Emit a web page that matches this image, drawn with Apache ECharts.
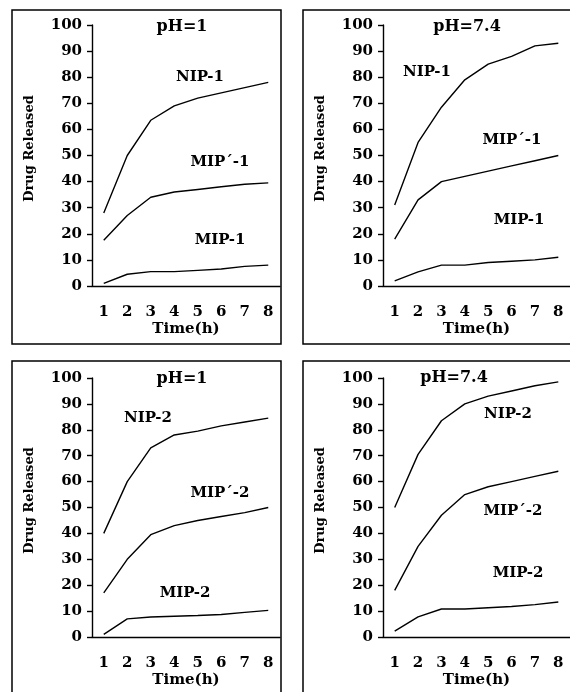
<!DOCTYPE html>
<html>
<head>
<meta charset="utf-8">
<script src="https://cdn.jsdelivr.net/npm/echarts@6/dist/echarts.min.js"></script>
<style>
  html, body { margin: 0; padding: 0; background: #fff; }
</style>
</head>
<body>
<div id="chart" style="width: 570px; height: 692px;"></div>
<script>
// time points (h)
const hours = ['1', '2', '3', '4', '5', '6', '7', '8'];
const yTicks = [0, 100, 10]; // min, max, step

// release data
const nip1Ph1 = [28, 50, 63.5, 69, 72, 74, 76, 78];
const mipp1Ph1 = [17.5, 27, 34, 36, 37, 38, 39, 39.5];
const mip1Ph1 = [1, 4.5, 5.5, 5.5, 6, 6.5, 7.5, 8];

const nip1Ph74 = [31, 55, 68.5, 79, 85, 88, 92, 93];
const mipp1Ph74 = [18, 33, 40, 42, 44, 46, 48, 50];
const mip1Ph74 = [2, 5.4, 8, 8, 9, 9.5, 10, 11];

const nip2Ph1 = [40, 60, 73, 78, 79.5, 81.5, 83, 84.5];
const mipp2Ph1 = [17, 30, 39.5, 43, 45, 46.5, 48, 50];
const mip2Ph1 = [1, 7, 7.7, 8, 8.3, 8.7, 9.5, 10.3];

const nip2Ph74 = [50, 70.5, 83.5, 90, 93, 95, 97, 98.5];
const mipp2Ph74 = [18, 35, 47, 55, 58, 60, 62, 64];
const mip2Ph74 = [2.3, 7.8, 10.8, 10.8, 11.3, 11.8, 12.5, 13.5];

const FONT = 'DejaVu Serif';

const panels = [
  { title: 'pH=1', grid: { left: 92, top: 25, width: 188, height: 261 },
    box: [12, 10, 269, 334], titlePos: [182, 27],
    series: [
      { name: 'NIP-1', data: nip1Ph1, pos: [200, 77] },
      { name: 'MIP\u00B4-1', data: mipp1Ph1, pos: [220, 162] },
      { name: 'MIP-1', data: mip1Ph1, pos: [220, 240] }
    ] },
  { title: 'pH=7.4', grid: { left: 383, top: 25, width: 187, height: 261 },
    box: [303, 10, 280, 334], titlePos: [467, 27],
    series: [
      { name: 'NIP-1', data: nip1Ph74, pos: [427, 72] },
      { name: 'MIP\u00B4-1', data: mipp1Ph74, pos: [512, 140] },
      { name: 'MIP-1', data: mip1Ph74, pos: [519, 220] }
    ] },
  { title: 'pH=1', grid: { left: 92, top: 378, width: 188, height: 259 },
    box: [12, 361, 269, 350], titlePos: [182, 379],
    series: [
      { name: 'NIP-2', data: nip2Ph1, pos: [148, 418] },
      { name: 'MIP\u00B4-2', data: mipp2Ph1, pos: [220, 493] },
      { name: 'MIP-2', data: mip2Ph1, pos: [185, 593] }
    ] },
  { title: 'pH=7.4', grid: { left: 383, top: 378, width: 187, height: 259 },
    box: [303, 361, 280, 350], titlePos: [454, 378],
    series: [
      { name: 'NIP-2', data: nip2Ph74, pos: [508, 414] },
      { name: 'MIP\u00B4-2', data: mipp2Ph74, pos: [513, 511] },
      { name: 'MIP-2', data: mip2Ph74, pos: [518, 573] }
    ] }
];

const textStyle = { fontFamily: FONT, fontWeight: 'bold', color: '#000' };

const option = {
  animation: false,
  backgroundColor: '#fff',
  grid: [],
  xAxis: [],
  yAxis: [],
  series: [],
  graphic: []
};

panels.forEach((p, i) => {
  option.grid.push(p.grid);
  option.xAxis.push({
    type: 'category',
    gridIndex: i,
    data: hours,
    boundaryGap: true,
    name: 'Time(h)',
    nameLocation: 'middle',
    nameGap: 36,
    nameTextStyle: { ...textStyle, fontSize: 15 },
    axisLine: { lineStyle: { color: '#000', width: 1.4 } },
    axisTick: { length: 5, lineStyle: { color: '#000', width: 1.4 } },
    axisLabel: { ...textStyle, fontSize: 15, margin: 19 },
    splitLine: { show: false }
  });
  option.yAxis.push({
    type: 'value',
    gridIndex: i,
    min: yTicks[0],
    max: yTicks[1],
    interval: yTicks[2],
    name: 'Drug Released',
    nameLocation: 'middle',
    nameGap: 56,
    nameTextStyle: { ...textStyle, fontSize: 13, padding: [0, 0, 0, 14] },
    axisLine: { show: true, lineStyle: { color: '#000', width: 1.4 } },
    axisTick: { show: true, length: 5, lineStyle: { color: '#000', width: 1.4 } },
    axisLabel: { ...textStyle, fontSize: 15, margin: 10 },
    splitLine: { show: false }
  });
  p.series.forEach(s => {
    option.series.push({
      type: 'line',
      name: s.name,
      xAxisIndex: i,
      yAxisIndex: i,
      data: s.data,
      showSymbol: false,
      symbol: 'none',
      lineStyle: { color: '#000', width: 1.4 }
    });
    option.graphic.push({
      type: 'text',
      x: s.pos[0],
      y: s.pos[1],
      style: {
        text: s.name,
        fill: '#000',
        font: 'bold 15px ' + FONT,
        textAlign: 'center',
        textVerticalAlign: 'middle'
      }
    });
  });
  option.graphic.push({
    type: 'rect',
    shape: { x: p.box[0], y: p.box[1], width: p.box[2], height: p.box[3] },
    style: { fill: 'none', stroke: '#000', lineWidth: 1.5 },
    z: -1
  });
  option.graphic.push({
    type: 'text',
    x: p.titlePos[0],
    y: p.titlePos[1],
    style: {
      text: p.title,
      fill: '#000',
      font: 'bold 16px ' + FONT,
      textAlign: 'center',
      textVerticalAlign: 'middle'
    }
  });
});

const myChart = echarts.init(document.getElementById('chart'));
myChart.setOption(option);
</script>
</body>
</html>
